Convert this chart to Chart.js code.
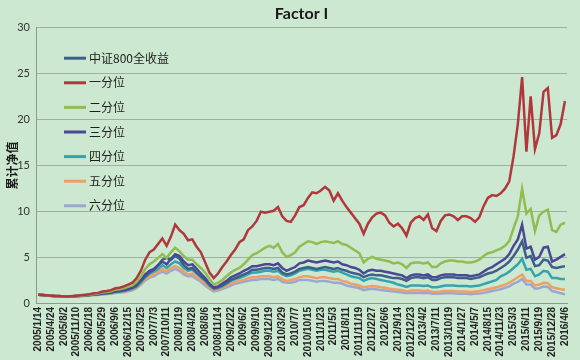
<!DOCTYPE html>
<html>
<head>
<meta charset="utf-8">
<script src="https://cdn.jsdelivr.net/npm/chart.js@4/dist/chart.umd.min.js"></script>
<style>
html,body{margin:0;padding:0;background:#cde8d0;}
#wrap{width:580px;height:360px;}
</style>
</head>
<body>
<div id="wrap"><canvas id="c" width="580" height="360"></canvas></div>
<script>
const chartTitle = 'Factor I';
const yTitle = '累计净值';
const seriesNames = ['中证800全收益','一分位','二分位','三分位','四分位','五分位','六分位'];
const yTicks = [0,5,10,15,20,25,30];
const tickLabels = ['2005/1/14','2005/4/24','2005/8/2','2005/11/10','2006/2/18','2006/5/29','2006/9/6','2006/12/15','2007/3/25','2007/7/3','2007/10/11','2008/1/19','2008/4/28','2008/8/6','2008/11/14','2009/2/22','2009/6/2','2009/9/10','2009/12/19','2010/3/29','2010/7/7','2010/10/15','2011/1/23','2011/5/3','2011/8/11','2011/11/19','2012/2/27','2012/6/6','2012/9/14','2012/12/23','2013/4/2','2013/7/11','2013/10/19','2014/1/27','2014/5/7','2014/8/15','2014/11/23','2015/3/3','2015/6/11','2015/9/19','2015/12/28','2016/4/6'];
const pointsPerTick = 3;

const csi800 = [1.0,0.97,0.93,0.88,0.85,0.84,0.8,0.81,0.83,0.86,0.88,0.92,
0.97,1.02,1.05,1.12,1.17,1.22,1.33,1.38,1.46,1.6,1.75,2.0,
2.5,3.0,3.4,3.7,4.2,4.8,5.0,4.8,5.2,4.9,4.2,3.8,
3.9,3.4,3.0,2.6,2.1,1.7,1.8,2.0,2.3,2.6,2.8,3.0,
3.2,3.4,3.7,3.7,3.8,3.9,3.9,3.8,3.9,3.4,3.2,3.3,
3.5,3.8,3.9,4.0,3.9,3.8,3.9,4.0,3.9,3.8,3.9,3.7,
3.6,3.4,3.3,3.2,2.9,3.1,3.2,3.1,3.1,3.0,2.9,2.8,
2.8,2.7,2.5,2.8,2.9,2.9,2.8,2.9,2.6,2.6,2.8,2.9,
2.9,2.9,2.8,2.8,2.8,2.7,2.8,2.9,3.1,3.3,3.4,3.6,
3.9,4.2,4.6,5.2,5.9,6.8,5.0,5.2,4.1,4.2,4.8,4.7,
4.0,3.9,4.0,4.1];
const q1 = [1.0,0.98,0.95,0.9,0.85,0.85,0.8,0.82,0.85,0.9,0.95,1.0,
1.05,1.15,1.2,1.35,1.4,1.5,1.7,1.75,1.9,2.1,2.3,2.8,
3.6,4.8,5.6,5.9,6.5,7.1,6.3,7.3,8.6,8.0,7.6,6.9,
7.0,6.2,5.6,4.5,3.4,2.8,3.3,4.0,4.6,5.3,5.9,6.7,
7.0,8.0,8.4,9.0,10.0,9.9,10.0,10.1,10.5,9.5,9.0,8.9,
9.6,10.5,10.7,11.5,12.1,12.0,12.3,12.7,12.3,11.2,12.0,11.2,
10.5,9.9,9.3,8.7,7.6,8.7,9.4,9.8,9.9,9.6,8.8,8.4,
8.7,8.2,7.4,8.8,9.3,9.5,9.1,9.7,8.2,7.9,9.0,9.6,
9.7,9.5,9.1,9.5,9.5,9.3,8.9,9.4,10.6,11.5,11.8,11.7,
12.0,12.5,13.3,16.0,19.5,24.6,16.5,22.5,16.8,18.5,23.0,23.4,
18.0,18.3,19.5,22.0];
const q2 = [1.0,0.97,0.93,0.88,0.84,0.83,0.79,0.8,0.83,0.87,0.9,0.95,
1.0,1.08,1.12,1.25,1.3,1.38,1.55,1.6,1.7,1.85,2.0,2.4,
3.0,3.8,4.3,4.6,5.0,5.4,5.0,5.6,6.1,5.7,5.2,4.8,
4.8,4.3,3.9,3.4,2.7,2.1,2.3,2.6,3.0,3.4,3.7,3.9,
4.3,4.8,5.3,5.5,5.8,6.1,6.3,6.1,6.5,5.6,5.1,5.3,
5.6,6.2,6.5,6.8,6.7,6.5,6.7,6.8,6.7,6.6,6.8,6.5,
6.4,6.1,5.8,5.5,4.5,4.9,5.1,4.9,4.8,4.7,4.6,4.4,
4.5,4.3,3.9,4.4,4.5,4.5,4.4,4.5,4.0,4.0,4.4,4.6,
4.7,4.7,4.6,4.6,4.5,4.5,4.6,4.8,5.2,5.5,5.6,5.8,
6.0,6.3,6.8,8.2,9.5,12.5,9.8,10.3,7.9,9.6,10.0,10.2,
8.0,7.8,8.6,8.8];
const q3 = [1.0,0.98,0.94,0.89,0.85,0.85,0.81,0.82,0.84,0.87,0.9,0.94,
0.99,1.05,1.09,1.17,1.22,1.28,1.4,1.45,1.53,1.66,1.8,2.1,
2.6,3.2,3.6,3.8,4.2,4.6,4.3,4.9,5.4,5.2,4.6,4.2,
4.3,3.8,3.3,2.8,2.2,1.8,1.9,2.2,2.5,2.9,3.1,3.3,
3.6,3.8,4.1,4.1,4.2,4.3,4.3,4.2,4.4,3.9,3.6,3.8,
4.0,4.4,4.5,4.7,4.6,4.5,4.6,4.7,4.6,4.5,4.6,4.3,
4.2,4.0,3.9,3.7,3.3,3.6,3.7,3.6,3.6,3.5,3.4,3.3,
3.2,3.1,2.8,3.1,3.2,3.2,3.1,3.2,2.9,2.9,3.1,3.2,
3.2,3.2,3.1,3.1,3.1,3.0,3.1,3.2,3.5,3.8,4.0,4.3,
4.6,4.9,5.4,6.3,7.0,8.6,6.0,6.2,4.8,5.1,6.1,6.2,
4.6,4.8,5.1,5.4];
const q4 = [1.0,0.97,0.93,0.88,0.84,0.83,0.79,0.8,0.82,0.85,0.87,0.9,
0.95,1.0,1.03,1.1,1.14,1.19,1.29,1.33,1.4,1.52,1.64,1.9,
2.35,2.9,3.3,3.5,3.8,4.2,3.9,4.3,4.6,4.4,3.9,3.6,
3.7,3.3,2.9,2.5,2.0,1.6,1.7,1.9,2.2,2.5,2.7,2.8,
3.0,3.2,3.4,3.4,3.5,3.6,3.6,3.5,3.6,3.2,3.0,3.1,
3.3,3.6,3.7,3.8,3.7,3.6,3.7,3.7,3.6,3.5,3.6,3.4,
3.2,3.0,2.9,2.8,2.5,2.7,2.8,2.7,2.6,2.5,2.4,2.3,
2.1,2.0,1.85,2.0,2.0,2.0,1.95,2.0,1.8,1.8,1.9,2.0,
2.0,2.0,1.95,1.95,1.95,1.9,1.95,2.0,2.15,2.3,2.45,2.6,
3.0,3.2,3.5,3.9,4.3,4.9,3.7,3.8,3.0,3.2,3.6,3.5,
2.8,2.8,2.7,2.7];
const q5 = [1.0,0.97,0.93,0.88,0.84,0.83,0.79,0.8,0.82,0.84,0.86,0.89,
0.93,0.98,1.0,1.06,1.1,1.15,1.24,1.28,1.34,1.45,1.56,1.8,
2.2,2.7,3.0,3.2,3.5,3.8,3.5,3.9,4.1,3.9,3.5,3.2,
3.3,2.9,2.6,2.2,1.8,1.45,1.55,1.75,2.0,2.2,2.4,2.5,
2.6,2.8,2.9,2.9,3.0,3.0,3.0,2.9,3.0,2.7,2.5,2.6,
2.7,2.9,3.0,3.0,2.9,2.8,2.9,2.9,2.8,2.7,2.7,2.5,
2.4,2.2,2.1,2.0,1.8,1.9,1.95,1.9,1.8,1.75,1.65,1.6,
1.55,1.5,1.35,1.45,1.45,1.45,1.4,1.45,1.3,1.3,1.35,1.4,
1.4,1.4,1.35,1.35,1.35,1.3,1.35,1.4,1.5,1.6,1.7,1.8,
1.95,2.1,2.3,2.6,2.9,3.2,2.5,2.5,2.0,2.1,2.3,2.25,
1.8,1.7,1.6,1.55];
const q6 = [1.0,0.97,0.92,0.87,0.83,0.82,0.78,0.79,0.81,0.83,0.85,0.88,
0.92,0.96,0.98,1.03,1.07,1.11,1.2,1.23,1.28,1.38,1.48,1.7,
2.1,2.55,2.85,3.0,3.3,3.5,3.3,3.6,3.8,3.6,3.2,3.0,
3.0,2.7,2.4,2.0,1.65,1.35,1.45,1.6,1.8,2.0,2.2,2.3,
2.4,2.5,2.6,2.6,2.7,2.7,2.7,2.6,2.7,2.4,2.3,2.3,
2.4,2.6,2.6,2.6,2.5,2.4,2.5,2.5,2.4,2.3,2.3,2.2,
2.0,1.9,1.8,1.7,1.5,1.6,1.65,1.6,1.5,1.45,1.4,1.35,
1.3,1.25,1.15,1.2,1.2,1.2,1.15,1.2,1.1,1.1,1.12,1.15,
1.15,1.15,1.1,1.1,1.1,1.05,1.1,1.12,1.2,1.3,1.4,1.5,
1.6,1.75,1.9,2.2,2.4,2.7,2.1,2.1,1.65,1.7,1.9,1.85,
1.4,1.3,1.15,1.05];

const seriesData = [csi800,q1,q2,q3,q4,q5,q6];
const seriesColors = ['#3f5f8a','#b0383c','#8fbd52','#4a4896','#35a3ad','#eda064','#9aa7d3'];
const drawOrder = [3,0,1,2,4,5,6];

const labels = csi800.map((v,i) => (i % pointsPerTick === 0 && tickLabels[i/pointsPerTick]) ? tickLabels[i/pointsPerTick] : '');

const bgPlugin = {
  id:'bg',
  beforeDraw(chart){
    const ctx = chart.ctx;
    ctx.save();
    ctx.fillStyle = '#cde8d0';
    ctx.fillRect(0,0,chart.width,chart.height);
    ctx.restore();
  }
};

const legendPlugin = {
  id:'customLegend',
  afterDatasetsDraw(chart){
    const ctx = chart.ctx;
    const a = chart.chartArea;
    ctx.save();
    ctx.font = '12px "Noto Sans CJK SC", sans-serif';
    ctx.textBaseline = 'middle';
    seriesNames.forEach((name,k) => {
      const y = a.top + 31 + k*24.6;
      const x0 = a.left + 28;
      ctx.strokeStyle = seriesColors[k];
      ctx.lineWidth = 3;
      ctx.beginPath();
      ctx.moveTo(x0, y);
      ctx.lineTo(x0+22, y);
      ctx.stroke();
      ctx.fillStyle = '#1e1e1e';
      ctx.fillText(name, x0+25, y);
    });
    ctx.restore();
  }
};

new Chart(document.getElementById('c'), {
  type:'line',
  data:{
    labels: labels,
    datasets: seriesData.map((d,k) => ({
      label: seriesNames[k],
      data: d,
      borderColor: seriesColors[k],
      borderWidth: 2.5,
      pointRadius: 0,
      tension: 0,
      fill: false,
      order: drawOrder[k]
    }))
  },
  options:{
    responsive:false,
    animation:false,
    devicePixelRatio:1,
    layout:{padding:{left:0,right:10,top:0,bottom:0}},
    plugins:{
      legend:{display:false},
      tooltip:{enabled:false},
      title:{
        display:true,
        text: chartTitle,
        fullSize:false,
        color:'#1a1a1a',
        font:{family:'Lato, "Open Sans", sans-serif', size:16, weight:'bold'},
        padding:{top:4,bottom:4}
      }
    },
    scales:{
      x:{
        type:'category',
        offset:true,
        grid:{display:false, drawTicks:false},
        border:{display:true, color:'#8a9c8c', width:1},
        ticks:{
          autoSkip:false,
          minRotation:90,
          maxRotation:90,
          padding:3,
          color:'#222',
          font:{family:'"Liberation Sans", Arial, sans-serif', size:10, weight:'bold'}
        }
      },
      y:{
        min:0,
        max:30,
        afterBuildTicks(scale){ scale.ticks = yTicks.map(v => ({value:v})); },
        afterFit(scale){ scale.width = 36; },
        grid:{color:'#9db19f', lineWidth:1, drawTicks:false},
        border:{display:true, color:'#8a9c8c', width:1},
        title:{
          display:true,
          text: yTitle,
          color:'#1e1e1e',
          font:{family:'"Noto Sans CJK SC", sans-serif', size:12, weight:'bold'},
          padding:{top:5,bottom:0}
        },
        ticks:{
          color:'#333',
          padding:6,
          font:{family:'Lato, "Liberation Sans", sans-serif', size:11}
        }
      }
    }
  },
  plugins:[bgPlugin, legendPlugin]
});
</script>
</body>
</html>
